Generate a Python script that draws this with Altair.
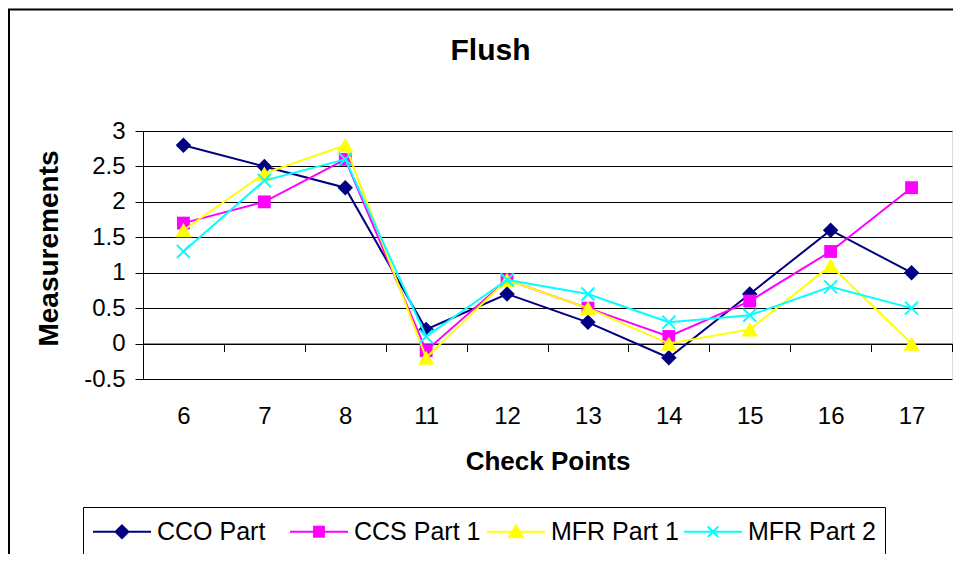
import altair as alt
import pandas as pd

# ---- data ----
categories = ["6", "7", "8", "11", "12", "13", "14", "15", "16", "17"]
series_names = ["CCO Part", "CCS Part 1", "MFR Part 1", "MFR Part 2"]
cco_part = [2.8, 2.5, 2.2, 0.2, 0.7, 0.3, -0.2, 0.7, 1.6, 1.0]
ccs_part1 = [1.7, 2.0, 2.6, -0.1, 0.9, 0.5, 0.1, 0.6, 1.3, 2.2]
mfr_part1 = [1.6, 2.4, 2.8, -0.2, 0.9, 0.5, 0.0, 0.2, 1.1, 0.0]
mfr_part2 = [1.3, 2.3, 2.6, 0.1, 0.9, 0.7, 0.3, 0.4, 0.8, 0.5]
y_ticks = [-0.5, 0, 0.5, 1, 1.5, 2, 2.5, 3]

# ---- styles ----
colors = ["#000080", "#FF00FF", "#FFFF00", "#00FFFF"]
marker_shapes = ["diamond", "square", "triangle-up", "M-1,-1L1,1M-1,1L1,-1"]
marker_sizes = [240, 165, 270, 170]
# legend symbols: line segment with the marker in its middle (unit = 14.5 px)
legend_paths = [
    "M-1,0H3M1,-0.44L1.44,0L1,0.44L0.56,0Z",
    "M-1,0H3M0.66,-0.34H1.34V0.34H0.66Z",
    "M-1,0H3M1,-0.44L1.46,0.38H0.54Z",
    "M-1,0H3M0.64,-0.36L1.36,0.36M0.64,0.36L1.36,-0.36",
]
FONT = "Liberation Sans"

rows = []
for name, vals in zip(series_names, [cco_part, ccs_part1, mfr_part1, mfr_part2]):
    for i, (c, v) in enumerate(zip(categories, vals)):
        rows.append({"cp": c, "idx": i, "value": v, "series": name})
df = pd.DataFrame(rows)

PLOT_W, PLOT_H = 809, 248
PAD_L, PAD_T = 135, 123
TOTAL_W, TOTAL_H = 945, 546

zero_offset = -PLOT_H * (0 - y_ticks[0]) / (y_ticks[-1] - y_ticks[0])

x_enc = alt.X(
    "cp:N",
    sort=categories,
    scale=alt.Scale(type="band", paddingInner=0, paddingOuter=0),
    axis=alt.Axis(
        title="Check Points",
        titleFontSize=26,
        titleFontWeight="bold",
        titleFont=FONT,
        titleColor="black",
        titlePadding=20,
        labelFontSize=24,
        labelFont=FONT,
        labelColor="black",
        labelAngle=0,
        labelPadding=53,
        labelOverlap=False,
        labelFlush=False,
        tickBand="extent",
        tickSize=8,
        tickColor="black",
        tickWidth=1,
        domainColor="black",
        domainWidth=1,
        grid=False,
        offset=zero_offset,
    ),
)
y_enc = alt.Y(
    "value:Q",
    scale=alt.Scale(domain=[y_ticks[0], y_ticks[-1]], nice=False, zero=False),
    axis=alt.Axis(
        title="Measurements",
        titleFontSize=28,
        titleFontWeight="bold",
        titleFont=FONT,
        titleColor="black",
        titlePadding=20,
        titleY=117,
        values=y_ticks,
        labelExpr="'' + datum.value",
        labelFontSize=24,
        labelFont=FONT,
        labelColor="black",
        labelPadding=10,
        tickSize=8,
        tickColor="black",
        domainColor="black",
        grid=True,
        gridColor="black",
        gridWidth=1,
    ),
)

frame = alt.Chart(pd.DataFrame({"f": [0]})).mark_rect(
    fillOpacity=0, stroke="black", strokeWidth=2
).encode(
    x=alt.value(1 - PAD_L),
    y=alt.value(1.5 - PAD_T),
    x2=alt.value(TOTAL_W - PAD_L + 20),
    y2=alt.value(TOTAL_H - PAD_T + 20),
)

series_layers = []
for name, col, shp, sz in zip(series_names, colors, marker_shapes, marker_sizes):
    is_cross = shp.startswith("M")
    base = alt.Chart(df).transform_filter(alt.datum.series == name)
    ln = base.mark_line(strokeWidth=2, color=col).encode(
        x=x_enc, y=y_enc, order=alt.Order("idx:Q")
    )
    pts = base.mark_point(
        shape=shp,
        filled=not is_cross,
        color=col,
        size=sz,
        strokeWidth=2 if is_cross else 1,
        opacity=1,
    ).encode(x=x_enc, y=y_enc)
    series_layers += [ln, pts]

legend_props = dict(
    title=None,
    orient="none",
    legendX=-60,
    legendY=376,
    direction="horizontal",
    columns=4,
    gridAlign="all",
    symbolSize=29 * 29,
    symbolStrokeWidth=2,
    labelFontSize=25,
    labelFont=FONT,
    labelColor="black",
    labelOffset=34,
    labelLimit=400,
    columnPadding=1,
    padding=9,
    strokeColor="black",
    fillColor="white",
)

legend_layer = alt.Chart(df).transform_filter("false").mark_point(
    filled=False, strokeWidth=2, opacity=1
).encode(
    x=x_enc,
    y=y_enc,
    color=alt.Color("series:N", scale=alt.Scale(domain=series_names, range=colors),
                    legend=alt.Legend(**legend_props)),
    fill=alt.Fill("series:N", scale=alt.Scale(domain=series_names, range=colors),
                  legend=alt.Legend(**legend_props)),
    shape=alt.Shape("series:N", scale=alt.Scale(domain=series_names, range=legend_paths),
                    legend=alt.Legend(**legend_props)),
)

chart = alt.layer(frame, *series_layers, legend_layer).properties(
    width=PLOT_W,
    height=PLOT_H,
    padding={"left": PAD_L, "top": PAD_T,
             "right": TOTAL_W - PAD_L - PLOT_W, "bottom": TOTAL_H - PAD_T - PLOT_H},
    autosize=alt.AutoSizeParams(type="none"),
    title=alt.TitleParams(
        "Flush",
        fontSize=30,
        fontWeight="bold",
        font=FONT,
        color="black",
        anchor="middle",
        frame="group",
        baseline="alphabetic",
        dx=-57,
        offset=-81,
    ),
).configure_view(
    stroke="#999999", strokeWidth=2
).configure(background="white")

chart.save("out.html", embed_options={"renderer": "svg", "actions": False})
